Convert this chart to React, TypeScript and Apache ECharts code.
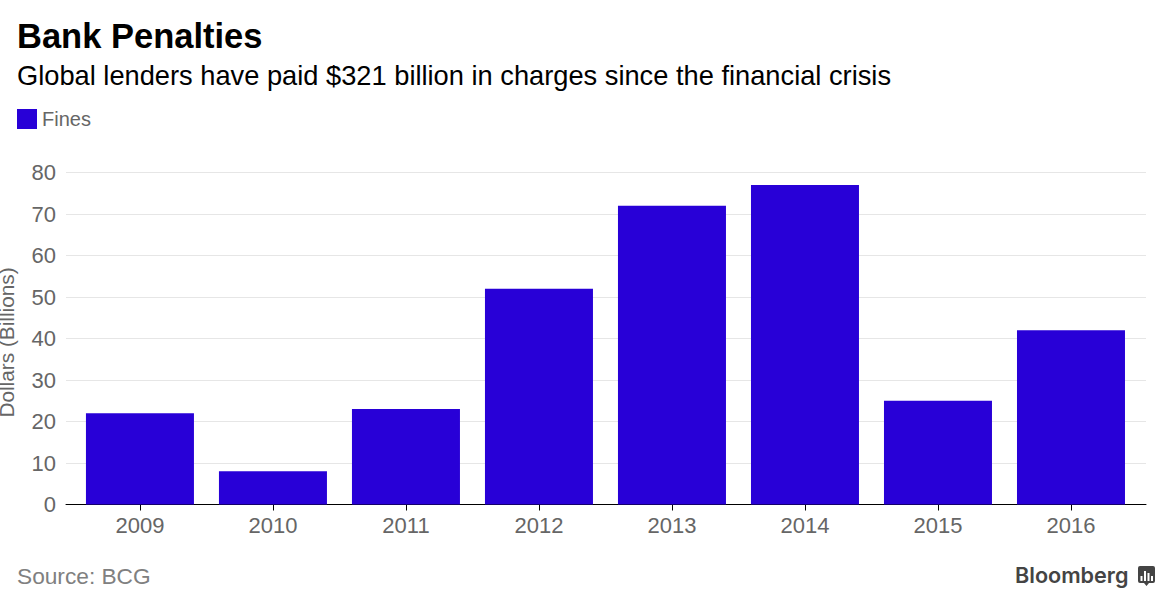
import React, { useEffect, useRef } from "react";
import * as echarts from "echarts";

const years = [2009, 2010, 2011, 2012, 2013, 2014, 2015, 2016];
const fines = [22, 8, 23, 52, 72, 77, 25, 42];
const yTicks = [0, 10, 20, 30, 40, 50, 60, 70, 80];
const FONT = "Liberation Sans";
const logoPath = "M2 0H15Q17 0 17 2V15Q17 17 15 17H11L8.5 20L6 17H2Q0 17 0 15V2Q0 0 2 0ZM2.500 10V15H4.500V10ZM6 5V15H8V5ZM9.500 7V15H11.500V7ZM13 10V15H15V10Z";
echarts.graphic.registerShape("bbgLogo", echarts.graphic.extendPath(logoPath, {}) as any);

export default function App() {
  const ref = useRef<HTMLDivElement>(null);
  useEffect(() => {
    document.body.style.margin = "0";
    const chart = echarts.init(ref.current!, undefined, { renderer: "svg" });
    chart.setOption({
      animation: false,
      backgroundColor: "#ffffff",
      title: [
        { text: "Bank Penalties", left: 17, top: 18, padding: 0, textStyle: { fontFamily: FONT, fontSize: 34.5, fontWeight: "bold", color: "#000" } },
        { text: "Global lenders have paid $321 billion in charges since the financial crisis", left: 17, top: 62, padding: 0, textStyle: { fontFamily: FONT, fontSize: 27.25, fontWeight: "normal", color: "#000" } },
      ],
      legend: {
        left: 17, top: 109, padding: 0, itemWidth: 20, itemHeight: 20, itemGap: 4, icon: "rect",
        data: ["Fines"],
        textStyle: { fontFamily: FONT, fontSize: 20, color: "#666" },
      },
      grid: { left: 66, right: 21, top: 172.5, bottom: 99.5, outerBoundsMode: "none" },
      xAxis: {
        type: "value", min: 2008.444, max: 2016.564, splitLine: { show: false },
        axisLine: { show: true, onZero: true, lineStyle: { color: "#000", width: 1 } },
        axisTick: { show: true, length: 6, customValues: years, lineStyle: { color: "#000" } },
        axisLabel: { customValues: years, formatter: (v: number) => String(v), margin: 10, fontFamily: FONT, fontSize: 22, color: "#666" },
      },
      yAxis: {
        type: "value", min: 0, max: 80, interval: 10,
        name: "Dollars (Billions)", nameLocation: "middle", nameGap: 49, nameRotate: 90, nameMoveOverlap: false,
        nameTextStyle: { fontFamily: FONT, fontSize: 20.8, color: "#666", padding: [0, 8, 0, 0] },
        axisLine: { show: false }, axisTick: { show: false },
        axisLabel: { margin: 10, fontFamily: FONT, fontSize: 22, color: "#666", customValues: yTicks },
        splitLine: { lineStyle: { color: "#e6e6e6", width: 1 } },
      },
      series: [{
        name: "Fines", type: "bar", barWidth: 108, itemStyle: { color: "#2800d7" },
        data: years.map((y, i) => [y, fines[i]]),
      }],
      graphic: [
        { type: "text", left: 17, top: 564, style: { text: "Source: BCG", fontFamily: FONT, fontSize: 22.7, fill: "#808080" } },
        { type: "text", left: 1015, top: 564, style: { text: "Bloomberg", fontFamily: "Inter", fontWeight: 600, fontSize: 21.6, fill: "#444444" } },
        { type: "bbgLogo", x: 1138, y: 566, style: { fill: "#444444" } },
      ],
    });
    return () => chart.dispose();
  }, []);
  return <div ref={ref} style={{ position: "absolute", left: 0, top: 0, width: 1167, height: 604 }} />;
}
